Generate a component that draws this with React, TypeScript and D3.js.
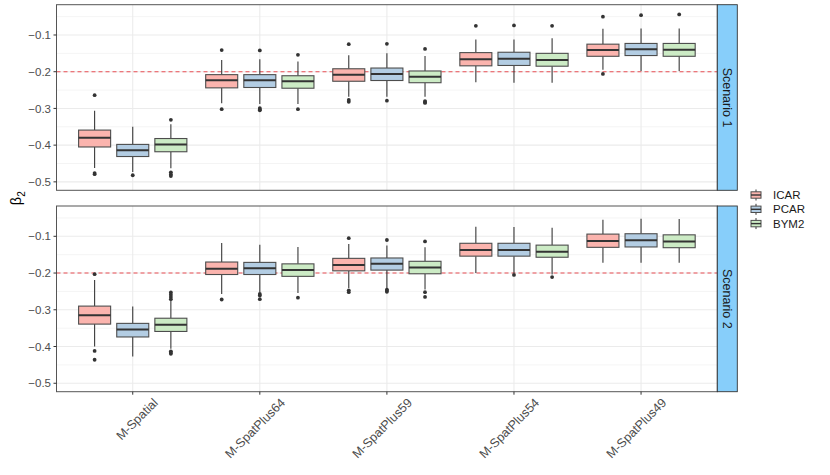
import React from 'react';
import * as d3 from 'd3';

const models = ['M-Spatial', 'M-SpatPlus64', 'M-SpatPlus59', 'M-SpatPlus54', 'M-SpatPlus49'];
const priors = ['ICAR', 'PCAR', 'BYM2'];
const scenarios = ['Scenario 1', 'Scenario 2'];
const yTicks = [-0.5, -0.4, -0.3, -0.2, -0.1];
const yMinorTicks = [-0.45, -0.35, -0.25, -0.15, -0.05];
const trueBeta = -0.2;

// [lower whisker, q1, median, q3, upper whisker], one row per model
const s1Icar = [
  [-0.462, -0.405, -0.380, -0.359, -0.306],
  [-0.286, -0.244, -0.223, -0.208, -0.168],
  [-0.268, -0.226, -0.208, -0.192, -0.155],
  [-0.229, -0.184, -0.166, -0.148, -0.112],
  [-0.195, -0.158, -0.141, -0.125, -0.083],
];
const s1Pcar = [
  [-0.473, -0.431, -0.414, -0.398, -0.350],
  [-0.288, -0.243, -0.223, -0.208, -0.166],
  [-0.268, -0.224, -0.206, -0.190, -0.150],
  [-0.230, -0.183, -0.165, -0.147, -0.112],
  [-0.198, -0.156, -0.139, -0.123, -0.082],
];
const s1Bym2 = [
  [-0.463, -0.418, -0.398, -0.382, -0.343],
  [-0.288, -0.245, -0.226, -0.211, -0.172],
  [-0.268, -0.230, -0.214, -0.198, -0.157],
  [-0.230, -0.185, -0.168, -0.150, -0.109],
  [-0.198, -0.158, -0.140, -0.123, -0.082],
];
const s2Icar = [
  [-0.400, -0.339, -0.315, -0.290, -0.219],
  [-0.257, -0.204, -0.188, -0.170, -0.118],
  [-0.241, -0.194, -0.178, -0.160, -0.121],
  [-0.200, -0.154, -0.137, -0.119, -0.074],
  [-0.172, -0.130, -0.113, -0.094, -0.055],
];
const s2Pcar = [
  [-0.427, -0.374, -0.354, -0.337, -0.291],
  [-0.252, -0.204, -0.187, -0.171, -0.123],
  [-0.241, -0.192, -0.175, -0.159, -0.125],
  [-0.200, -0.154, -0.137, -0.119, -0.075],
  [-0.172, -0.129, -0.111, -0.093, -0.052],
];
const s2Bym2 = [
  [-0.406, -0.359, -0.341, -0.323, -0.275],
  [-0.254, -0.209, -0.192, -0.175, -0.129],
  [-0.245, -0.202, -0.185, -0.168, -0.130],
  [-0.204, -0.157, -0.142, -0.124, -0.077],
  [-0.172, -0.131, -0.114, -0.096, -0.053],
];

// outlying draws, one list per model
const s1IcarOut = [[-0.264, -0.476, -0.479], [-0.141, -0.302], [-0.125, -0.277, -0.282], [-0.075], [-0.050, -0.206]];
const s1PcarOut = [[-0.482], [-0.142, -0.299, -0.303, -0.305], [-0.124, -0.279], [-0.074], [-0.046]];
const s1Bym2Out = [[-0.331, -0.474, -0.480, -0.484], [-0.154, -0.302], [-0.138, -0.280, -0.283, -0.285], [-0.075], [-0.044]];
const s2IcarOut = [[-0.203, -0.412, -0.436], [-0.272], [-0.105, -0.247, -0.252], [], []];
const s2PcarOut = [[], [-0.257, -0.261, -0.271], [-0.110, -0.245, -0.248, -0.251], [-0.205], []];
const s2Bym2Out = [[-0.253, -0.259, -0.265, -0.271, -0.413, -0.417, -0.420], [-0.267], [-0.114, -0.252, -0.265], [-0.211], []];

const stats = [[s1Icar, s1Pcar, s1Bym2], [s2Icar, s2Pcar, s2Bym2]];
const outliers = [[s1IcarOut, s1PcarOut, s1Bym2Out], [s2IcarOut, s2PcarOut, s2Bym2Out]];

const W = 830;
const H = 475;
const left = 56.5;
const right = 717.3;
const stripW = 20;
const panels = [
  { top: 4.7, bottom: 190.3 },
  { top: 206, bottom: 391.7 },
];
const font = '"Liberation Sans", Arial, Helvetica, sans-serif';

export default function App() {
  const x = d3.scalePoint<string>().domain(models).range([left, right]).padding(0.6);
  const step = x.step();
  const dodge = d3.scaleBand<string>().domain(priors).range([-0.45 * step, 0.45 * step]);
  const boxW = dodge.bandwidth() * 0.84;
  const fill = d3.scaleOrdinal<string, string>().domain(priors).range(d3.schemePastel1);
  const fmt = d3.format('.1f');

  return (
    <svg width={W} height={H} style={{ position: 'absolute', left: 0, top: 0, fontFamily: font }}>
      <rect width={W} height={H} fill="#fff" />
      {panels.map((p, si) => {
        const y = d3.scaleLinear().domain([-0.523, -0.0175]).range([p.bottom, p.top]);
        return (
          <g key={si}>
            <rect x={left} y={p.top} width={right - left} height={p.bottom - p.top} fill="#fff" />
            {yMinorTicks.map(t => (
              <line key={'m' + t} x1={left} x2={right} y1={y(t)} y2={y(t)} stroke="#ebebeb" strokeWidth={0.55} />
            ))}
            {yTicks.map(t => (
              <line key={'g' + t} x1={left} x2={right} y1={y(t)} y2={y(t)} stroke="#ebebeb" strokeWidth={1.07} />
            ))}
            {models.map(m => (
              <line key={'v' + m} x1={x(m)} x2={x(m)} y1={p.top} y2={p.bottom} stroke="#ebebeb" strokeWidth={1.07} />
            ))}
            <line x1={left} x2={right} y1={y(trueBeta)} y2={y(trueBeta)} stroke="#e8333a" strokeOpacity={0.85}
              strokeWidth={1.1} strokeDasharray="4,3" />
            {models.map((m, mi) =>
              priors.map((pr, pi) => {
                const [lo, q1, med, q3, hi] = stats[si][pi][mi];
                const cx = (x(m) as number) + (dodge(pr) as number) + dodge.bandwidth() / 2;
                return (
                  <g key={m + pr}>
                    <line x1={cx} x2={cx} y1={y(hi)} y2={y(q3)} stroke="#333" strokeWidth={1.07} />
                    <line x1={cx} x2={cx} y1={y(q1)} y2={y(lo)} stroke="#333" strokeWidth={1.07} />
                    <rect x={cx - boxW / 2} y={y(q3)} width={boxW} height={y(q1) - y(q3)} fill={fill(pr)}
                      stroke="#4d4d4d" strokeWidth={1.1} />
                    <line x1={cx - boxW / 2} x2={cx + boxW / 2} y1={y(med)} y2={y(med)} stroke="#333" strokeWidth={2} />
                    {outliers[si][pi][mi].map((o, oi) => (
                      <circle key={oi} cx={cx} cy={y(o)} r={1.9} fill="#333" />
                    ))}
                  </g>
                );
              })
            )}
            <rect x={left} y={p.top} width={right - left} height={p.bottom - p.top} fill="none" stroke="#555" strokeWidth={1} />
            {yTicks.map(t => (
              <g key={'t' + t}>
                <line x1={left - 3} x2={left} y1={y(t)} y2={y(t)} stroke="#333" strokeWidth={1} />
                <text x={left - 5.5} y={y(t)} dy="0.36em" textAnchor="end" fontSize={11.5} fill="#4d4d4d">
                  {fmt(t)}
                </text>
              </g>
            ))}
            <rect x={right} y={p.top} width={stripW} height={p.bottom - p.top} fill="#87cefa" stroke="#333" strokeWidth={0.9} />
            <text transform={`translate(${right + stripW / 2},${(p.top + p.bottom) / 2}) rotate(90)`} textAnchor="middle"
              dy="0.36em" fontSize={12.5} fill="#1a1a1a">
              {scenarios[si]}
            </text>
          </g>
        );
      })}
      {models.map(m => (
        <g key={'x' + m}>
          <line x1={x(m)} x2={x(m)} y1={panels[1].bottom} y2={panels[1].bottom + 3} stroke="#333" strokeWidth={1} />
          <text transform={`translate(${(x(m) as number) + 26},${403.5}) rotate(-45)`} textAnchor="end"
            fontSize={12.5} fill="#4d4d4d">
            {m}
          </text>
        </g>
      ))}
      <text transform={`translate(21,${(panels[0].top + panels[1].bottom) / 2}) rotate(-90)`} textAnchor="middle"
        fontSize={14.5} fill="#000">
        β<tspan fontSize={10} dy="4">2</tspan>
      </text>
      {priors.map((pr, i) => {
        const ky = 195 + i * 14.3;
        const kx = 756;
        return (
          <g key={'l' + pr}>
            <line x1={kx} x2={kx} y1={ky - 5.5} y2={ky + 5.5} stroke="#333" strokeWidth={1} />
            <rect x={kx - 5} y={ky - 3.2} width={10} height={6.4} fill={fill(pr)} stroke="#4d4d4d" strokeWidth={1} />
            <line x1={kx - 5} x2={kx + 5} y1={ky} y2={ky} stroke="#333" strokeWidth={1.4} />
            <text x={773} y={ky} dy="0.36em" fontSize={11.5} fill="#1a1a1a">
              {pr}
            </text>
          </g>
        );
      })}
    </svg>
  );
}
